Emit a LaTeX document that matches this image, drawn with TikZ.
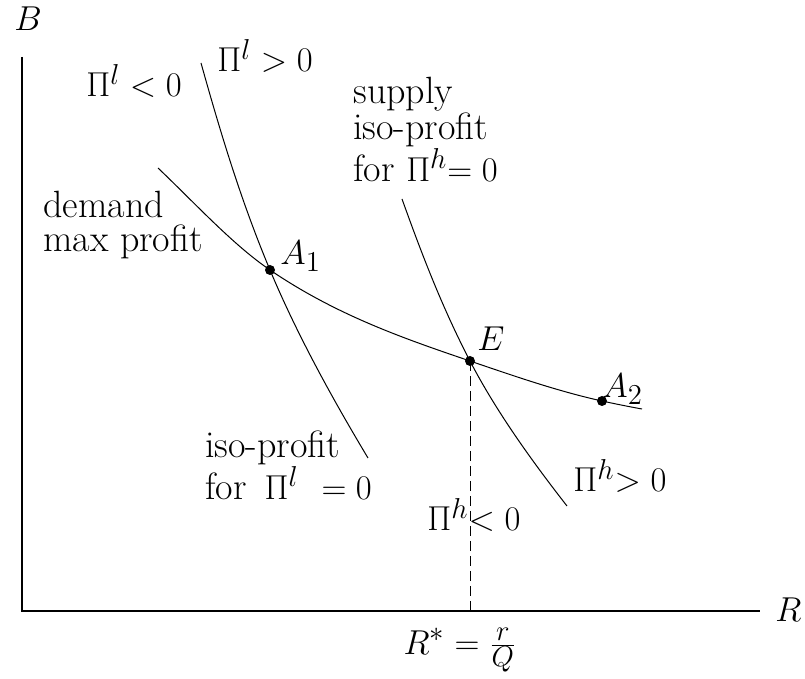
\documentclass[tikz,border=0pt]{standalone}
\begin{document}
\begin{tikzpicture}[x=0.5pt,y=-0.5pt,
  lbl/.style={anchor=base west,inner sep=0pt,font=\fontsize{19}{22}\selectfont},
  blk/.style={anchor=north west,inner sep=0pt,align=left},
  ctr/.style={inner sep=0pt,font=\fontsize{19}{22}\selectfont},
  axis/.style={line width=0.9pt},
  curve/.style={line width=0.5pt},
  dot/.style={fill=black}]
\useasboundingbox (0,0) rectangle (805,679);
% axes
\coordinate (O) at (22,611);
\coordinate (Btop) at (22,57);
\coordinate (Rend) at (760,611);
\draw[axis] (Btop) -- (O) -- (Rend);
\node[ctr] (B) at (28,19) {$B$};
\node[lbl] (R) at (775,622) {$R$};
% points
\coordinate (A1) at (270,270);
\coordinate (E) at (470,361);
\coordinate (A2) at (602,401);
\coordinate (Ebase) at (470,611);
\coordinate (Dstart) at (158,168);
\coordinate (Dend) at (642,409);
\coordinate (Lstart) at (201,63);
\coordinate (Lend) at (368,458);
\coordinate (Hstart) at (402,199);
\coordinate (Hend) at (567,506);
% demand curve
\draw[curve] (Dstart) .. controls (195.3,203.5) and (232.7,244.6) .. (A1)
  .. controls (336.7,315.3) and (403.3,338.3) .. (E)
  .. controls (514,376) and (558,391.3) .. (A2)
  .. controls (615.3,403.9) and (628.7,406.6) .. (Dend);
% iso-profit l
\draw[curve] (Lstart) .. controls (220.3,132) and (241,201) .. (A1)
  .. controls (296.3,332.7) and (330.4,395.3) .. (Lend);
% iso-profit h
\draw[curve] (Hstart) .. controls (421.4,253) and (441.9,307) .. (E)
  .. controls (495.1,409.3) and (529.3,457.7) .. (Hend);
% dashed
\draw[curve,dash pattern=on 5pt off 2.5pt] (E) -- (Ebase);
% dots
\fill[dot] (A1) circle (5);
\fill[dot] (E) circle (5);
\fill[dot] (A2) circle (5);
% labels
\node[lbl] (lneg) at (86,97) {$\Pi^l<0$};
\node[lbl] (lpos) at (217,72) {$\Pi^l>0$};
\node[blk,font=\fontsize{19}{18}\selectfont] (sup) at (353,76.6) {supply\\iso-profit\\for $\Pi^h\mkern-5mu= 0$};
\node[blk,font=\fontsize{19}{17}\selectfont] (dem) at (43,190.6) {demand\\max profit};
\node[lbl] (A1l) at (280,265) {$A_1$};
\node[lbl] (El) at (477,351) {$E$};
\node[lbl] (A2l) at (602,398) {$A_2$};
\node[blk,font=\fontsize{19}{18}\selectfont] (iso) at (205,430.2) {iso-profit\\for\, $\Pi^l$\ \ $= 0$};
\node[lbl] (hpos) at (573,492) {$\Pi^h\mkern-5mu> 0$};
\node[lbl] (hneg) at (427,531) {$\Pi^h\mkern-5mu< 0$};
\node[ctr] (Rstar) at (460,650) {$R^* = \frac{r}{Q}$};
\end{tikzpicture}
\end{document}
